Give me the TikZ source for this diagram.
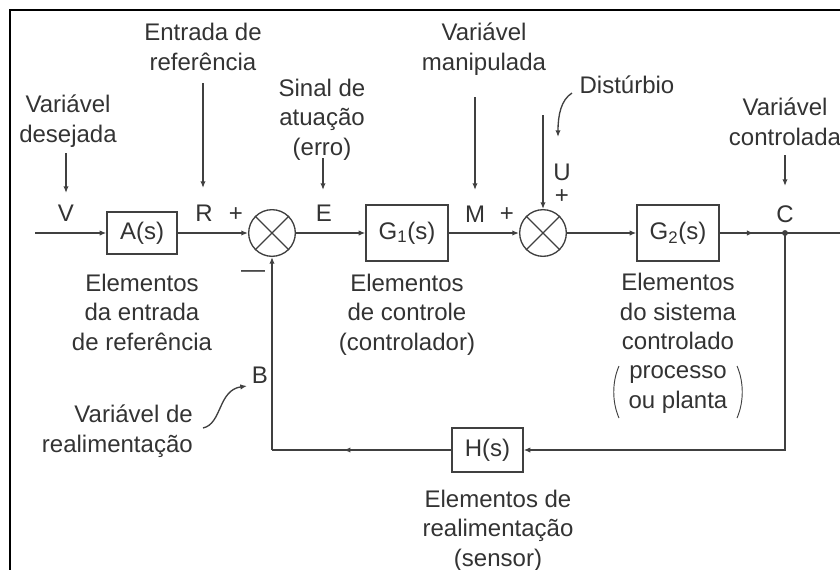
\documentclass[tikz,border=0pt]{standalone}
\usepackage{fontspec}
\setmainfont{Liberation Sans}
\usetikzlibrary{arrows.meta,decorations.markings}
\definecolor{ln}{gray}{0.25}
\definecolor{tx}{gray}{0.2}
\begin{document}
\begin{tikzpicture}[x=0.75pt,y=-0.75pt,
  txt/.style={font=\fontsize{18}{22}\selectfont, text=tx, align=center, inner sep=0pt, anchor=base},
  blk/.style={draw=ln, line width=1pt, inner sep=0pt, font=\fontsize{18}{22}\selectfont, text=tx},
  sumj/.style={draw=ln, circle, minimum size=35pt, inner sep=0pt, line width=1pt},
  arr/.style={draw=ln, line width=1pt, -{Latex[length=5pt,width=4pt]}},
  lnk/.style={draw=ln, line width=1pt},
  midarr/.style={draw=ln, line width=1pt, postaction={decorate},
    decoration={markings, mark=at position #1 with {\arrow{Latex[length=5pt,width=4pt]}}}},
  frame/.style={draw=black, line width=1.5pt}
]
\useasboundingbox (0,0) rectangle (840,569);
\draw[frame] (10,580) -- (10,10) -- (850,10);

% blocks
\node[blk, minimum width=52.5pt, minimum height=31.5pt] (A) at (142,233) {A(s)};
\node[sumj] (S1) at (272,233) {};
\node[blk, minimum width=61.5pt, minimum height=42pt] (G1) at (407,233) {G\textsubscript{1}(s)};
\node[sumj] (S2) at (543,233) {};
\node[blk, minimum width=61.5pt, minimum height=42pt] (G2) at (678,233) {G\textsubscript{2}(s)};
\node[blk, minimum width=53.25pt, minimum height=33pt] (H) at (487.5,450) {H(s)};
\draw[lnk] (S1.45) -- (S1.225) (S1.135) -- (S1.315);
\draw[lnk] (S2.45) -- (S2.225) (S2.135) -- (S2.315);

\coordinate (in) at (35,233);
\coordinate (Cj) at (785,233);
\coordinate (out) at (850,233);
\coordinate (fbR) at (785,450);
\coordinate (fbL) at (272,450);
\coordinate (dtop) at (543,115);

% signal lines
\draw[arr] (in) -- (A);
\draw[arr] (A) -- (S1);
\draw[arr] (S1) -- (G1);
\draw[arr] (G1) -- (S2);
\draw[arr] (S2) -- (G2);
\draw[midarr=0.52] (G2) -- (Cj);
\draw[lnk] (Cj) -- (out);
\fill[ln] (Cj) circle (2.2pt);
\draw[arr] (Cj) -- (fbR) -- (H);
\draw[midarr=0.6] (H) -- (fbL);
\draw[arr] (fbL) -- (S1);
\draw[arr] (dtop) -- (S2);

% signal letters
\node[txt] (V) at (66,221) {V};
\node[txt] (R) at (204,221) {R};
\node[txt] (E) at (324,221) {E};
\node[txt] (M) at (475,222) {M};
\node[txt] (C) at (785,222) {C};
\node[txt] (U) at (562,180) {U};
\node[txt] (B) at (260,383) {B};
\node[txt] (p1) at (236,221) {+};
\node[txt] (p2) at (507,221) {+};
\node[txt] (p3) at (562,203) {+};
\node[txt] (m1) at (253,277) {—};

% descriptive labels (anchor = baseline of last line)
\node[txt] (tV) at (68,142) {Variável\\desejada};
\node[txt] (tR) at (203,70) {Entrada de\\referência};
\node[txt] (tE) at (322,155) {Sinal de\\atuação\\(erro)};
\node[txt] (tM) at (484,70) {Variável\\manipulada};
\node[txt] (tD) at (627,93) {Distúrbio};
\node[txt] (tC) at (785,145) {Variável\\controlada};
\node[txt, align=right, anchor=base east] (tB) at (193,452) {Variável de\\realimentação};
\node[txt] (dA) at (142,350) {Elementos\\da entrada\\de referência};
\node[txt] (dG1) at (407,350) {Elementos\\de controle\\(controlador)};
\node[txt] (dG2) at (678,408) {Elementos\\do sistema\\controlado\\processo\\ou planta};
\node[txt] (dH) at (498,566) {Elementos de\\realimentação\\(sensor)};

% parentheses
\draw[ln, line width=0.7pt] (619,366) .. controls (612,382) and (612,402) .. (619,418);
\draw[ln, line width=0.7pt] (737,366) .. controls (744,382) and (744,402) .. (737,418);

% label arrows
\draw[arr] (66,153) -- (66,193);
\draw[arr] (203,83) -- (203,188);
\draw[arr] (323,158) -- (323,190);
\draw[arr] (475,97) -- (475,190);
\draw[arr] (785,155) -- (785,186);
\draw[arr] (572,93) .. controls (561,100) and (558,115) .. (558,137);
\draw[arr] (203,428) .. controls (222,424) and (218,390) .. (247,386);
\end{tikzpicture}
\end{document}
